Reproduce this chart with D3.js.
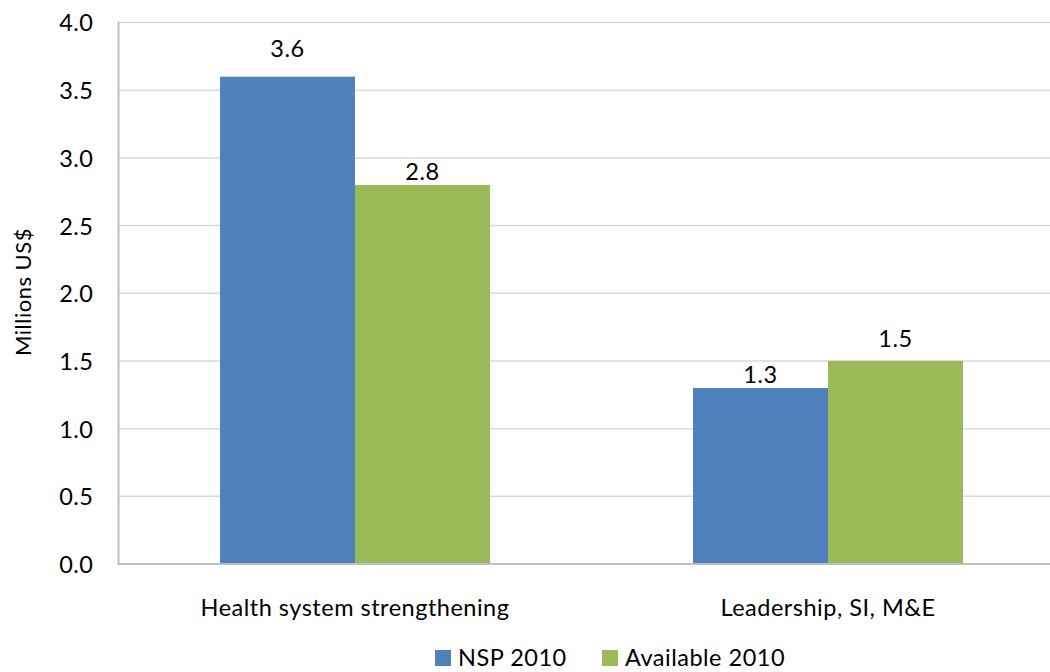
<!DOCTYPE html>
<html><head><meta charset="utf-8">
<script src="https://cdn.jsdelivr.net/npm/d3@7"></script>
<style>body{margin:0;background:#fff}svg text{font-family:Lato,"Open Sans",sans-serif;fill:#000;letter-spacing:0.5px}</style>
</head><body><svg id="c" width="1050" height="672"></svg>
<script>
const categories = ["Health system strengthening", "Leadership, SI, M&E"];
const seriesNames = ["NSP 2010", "Available 2010"];
const nsp2010 = [3.6, 1.3];
const available2010 = [2.8, 1.5];
const yTicks = [0, 0.5, 1, 1.5, 2, 2.5, 3, 3.5, 4];
const colors = ["#4F81BD", "#9BBB59"];
// vertical gap (px) between each data label baseline and its bar top, as placed in the original
const labelGap = [[20, 5], [5, 14]];

const svg = d3.select("#c");
const m = {l:118.5, t:22.5, r:1064.5, b:564};
const fs = 23.5;
const x0 = d3.scaleBand().domain(categories).range([m.l, m.r]).paddingInner(0).paddingOuter(0);
const bandPad = 0.2146; // gap width 150%
const x1 = d3.scaleBand().domain(seriesNames).range([x0.bandwidth()*bandPad, x0.bandwidth()*(1-bandPad)]);
const y = d3.scaleLinear().domain([0,4]).range([m.b, m.t]);

// gridlines
svg.append("g").selectAll("line").data(yTicks.filter(d=>d>0)).join("line")
  .attr("x1", m.l).attr("x2", 1050).attr("y1", d=>y(d)).attr("y2", d=>y(d))
  .attr("stroke", "#D9D9D9").attr("stroke-width", 1.5);

// y axis
const ya = svg.append("g").attr("transform", `translate(${m.l},0)`)
  .call(d3.axisLeft(y).tickValues(yTicks).tickFormat(d3.format(".1f")).tickSize(0).tickPadding(25));
ya.select(".domain").remove();
ya.selectAll("text").attr("font-size", fs).attr("font-family", "Lato").attr("dy", "0.36em");

const data = categories.map((c,i)=>({c, i, vals:[{s:seriesNames[0], v:nsp2010[i], g:labelGap[i][0]},{s:seriesNames[1], v:available2010[i], g:labelGap[i][1]}]}));
const g = svg.append("g").selectAll("g").data(data).join("g")
  .attr("transform", d=>`translate(${x0(d.c)},0)`);
g.selectAll("rect").data(d=>d.vals).join("rect")
  .attr("x", d=>x1(d.s)).attr("width", x1.bandwidth())
  .attr("y", d=>y(d.v)).attr("height", d=>y(0)-y(d.v))
  .attr("fill", (d,i)=>colors[i]);
g.selectAll("text.v").data(d=>d.vals).join("text").attr("class","v")
  .attr("x", d=>x1(d.s)+x1.bandwidth()/2).attr("y", d=>y(d.v)-d.g)
  .attr("text-anchor","middle").attr("font-size", fs).text(d=>d.v.toFixed(1));

// axis lines
svg.append("line").attr("x1", m.l).attr("x2", m.l).attr("y1", m.t-1).attr("y2", m.b)
  .attr("stroke", "#BFBFBF").attr("stroke-width", 2);
svg.append("line").attr("x1", m.l-1).attr("x2", 1050).attr("y1", m.b).attr("y2", m.b)
  .attr("stroke", "#BFBFBF").attr("stroke-width", 2);
const xa = svg.append("g").attr("transform", `translate(0,${m.b})`)
  .call(d3.axisBottom(x0).tickSize(0).tickPadding(0));
xa.select(".domain").remove();
xa.selectAll("text").attr("font-size", fs).attr("font-family","Lato").attr("dy", null).attr("y", 51.5);

// y title
svg.append("text").attr("transform","translate(31,292) rotate(-90)")
  .attr("text-anchor","middle").attr("font-size", 22).text("Millions US$");

// legend
const lg = svg.append("g");
const lx = [435, 602];
seriesNames.forEach((s,i)=>{
  lg.append("rect").attr("x", lx[i]).attr("y", 650).attr("width", 16).attr("height", 16).attr("fill", colors[i]);
  lg.append("text").attr("x", lx[i]+23).attr("y", 666).attr("font-size", fs).text(s);
});
</script></body></html>
